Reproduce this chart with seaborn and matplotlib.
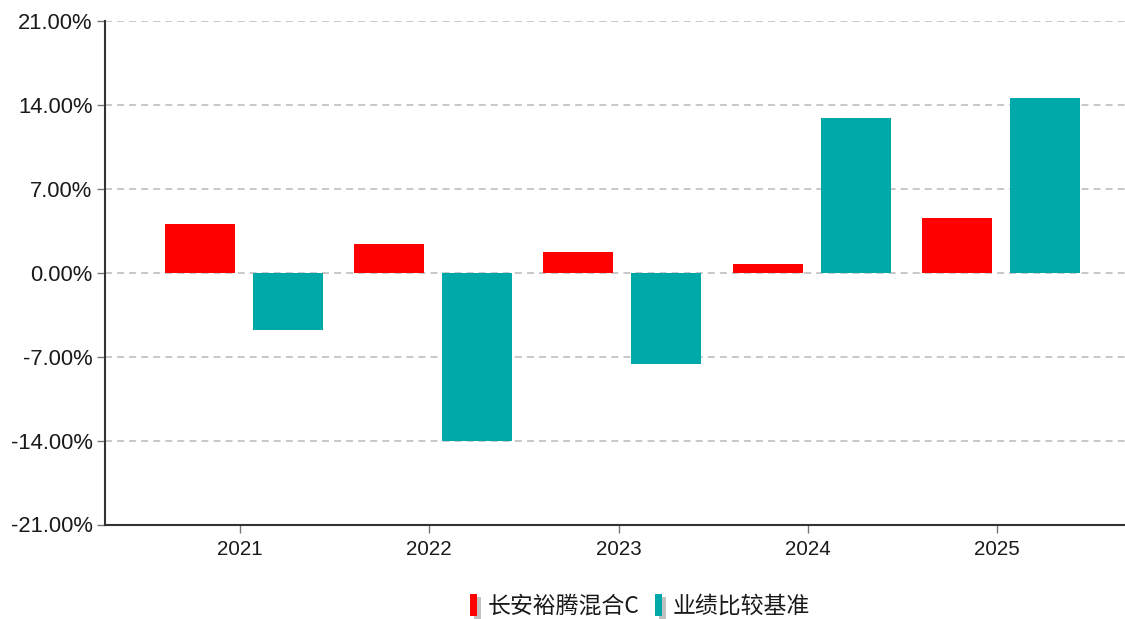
import numpy as np
import pandas as pd
import matplotlib
matplotlib.use("Agg")
import matplotlib.pyplot as plt
import matplotlib.patheffects as pe
from matplotlib.patches import Patch
import seaborn as sns

# values (% returns per year)
years = ["2021", "2022", "2023", "2024", "2025"]
fund_returns = [4.03, 2.37, 1.70, 0.70, 4.55]
bench_returns = [-4.78, -14.07, -7.60, 12.88, 14.55]
series_names = ["长安裕腾混合C", "业绩比较基准"]
y_ticks = [-21, -14, -7, 0, 7, 14, 21]

colors = ["#ff0000", "#00a9a9"]

df = pd.DataFrame({
    "year": years * 2,
    "ret": fund_returns + bench_returns,
    "series": [series_names[0]] * len(years) + [series_names[1]] * len(years),
})

sns.set_style("white")
plt.rcParams["font.family"] = ["Liberation Sans", "Noto Sans CJK SC", "DejaVu Sans"]

fig = plt.figure(figsize=(11.25, 6.19), dpi=100)
ax = fig.add_axes([105 / 1125, 1 - 524.5 / 619, 1 - 105 / 1125, (524.5 - 20.7) / 619])

sns.barplot(data=df, x="year", y="ret", hue="series", palette=colors,
            width=0.93, gap=0.204, linewidth=0, saturation=1, ax=ax, legend=False)

ax.set_ylim(-21, 21)
ax.set_xlim(-0.735, 4.656)
ax.set_yticks(y_ticks)
ax.set_yticklabels([f"{v:.2f}%" for v in y_ticks])
ax.set_xticks(np.arange(len(years)) - 0.021)
ax.set_xticklabels(years)
ax.set_xlabel("")
ax.set_ylabel("")

# dashed horizontal grid behind the bars
ax.set_axisbelow(True)
ax.yaxis.grid(True, color="#c8c8c8", linewidth=1.4, linestyle=(0, (3.6, 2.6)))
ax.xaxis.grid(False)

for s in ["top", "right"]:
    ax.spines[s].set_visible(False)
for s in ["left", "bottom"]:
    ax.spines[s].set_color("#333333")
    ax.spines[s].set_linewidth(1.5)

ax.tick_params(axis="both", which="major", length=6, width=1, color="#777777",
               labelcolor="#1a1a1a", pad=3)
ax.tick_params(axis="y", left=True, labelsize=15.8)
ax.tick_params(axis="x", bottom=True, pad=5, labelsize=14.8)

handles = [Patch(facecolor=c, edgecolor="none") for c in colors]
leg = fig.legend(handles, series_names, loc="center", bbox_to_anchor=(0.569, 0.021),
                 ncol=2, frameon=False, handlelength=0.3, handleheight=1.1,
                 handletextpad=0.45, columnspacing=0.7,
                 prop={"family": ["Noto Sans CJK SC", "DejaVu Sans"], "size": 16.5})
for h in leg.legend_handles:
    h.set_path_effects([pe.SimplePatchShadow(offset=(2.5, -2), shadow_rgbFace="#999999", alpha=0.6),
                        pe.Normal()])
for t in leg.get_texts():
    t.set_color("#1a1a1a")

fig.savefig("out.png", dpi=100)
